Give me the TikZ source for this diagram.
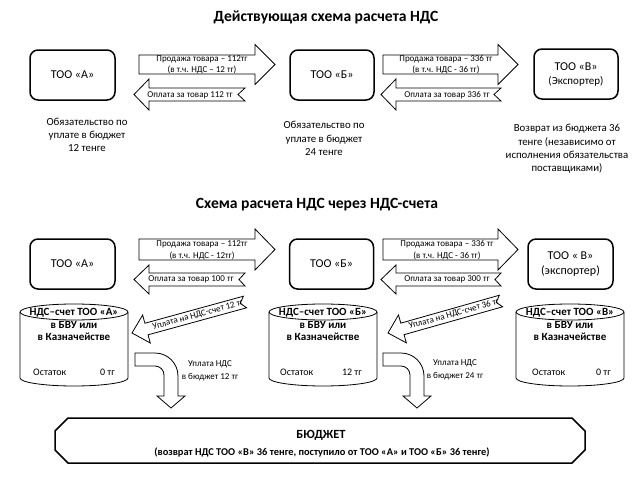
\documentclass[tikz,border=0pt]{standalone}
\usepackage{fontspec}
\setmainfont{Carlito}
\usetikzlibrary{calc}
\newcommand{\blkarrow}[6]{%
  \coordinate (ba-hb) at ($(#2)!#5!(#1)$);
  \coordinate (ba-nt) at ($(#1)!#6!(#2)$);
  \draw[barrow] (#2) -- ($(ba-hb)!#4!90:(#1)$) -- ($(ba-hb)!#3!90:(#1)$) -- ($(#1)!#3!-90:(ba-hb)$) -- (ba-nt) -- ($(#1)!#3!90:(ba-hb)$) -- ($(ba-hb)!#3!-90:(#1)$) -- ($(ba-hb)!#4!-90:(#1)$) -- cycle;
}
\newcommand{\drawcyl}[2]{%
  \pgfmathsetmacro{\cylL}{#1-54}\pgfmathsetmacro{\cylR}{#1+54}%
  \pgfmathsetmacro{\cylKa}{#1-29.8}\pgfmathsetmacro{\cylKb}{#1+29.8}%
  \node[inner sep=0pt, minimum width=108pt, minimum height=82pt] (#2) at (#1,345) {};
  \draw[cyl] (#1,312) ellipse [x radius=54pt, y radius=8pt];
  \draw[cyl] (\cylL,312) -- (\cylL,378) .. controls (\cylL,382.4) and (\cylKa,386) .. (#1,386) .. controls (\cylKb,386) and (\cylR,382.4) .. (\cylR,378) -- (\cylR,312);
}
\begin{document}
\begin{tikzpicture}[x=1pt,y=-1pt,
  tbox/.style={draw, line width=1.5pt, rounded corners=8pt, minimum width=85pt, minimum height=50pt, inner sep=0pt, align=center, font=\fontsize{12}{14}\selectfont},
  barrow/.style={draw, line width=0.8pt, fill=white, line join=miter},
  alabel/.style={font=\fontsize{9}{11}\selectfont, inner sep=0pt},
  note/.style={align=center, font=\fontsize{10.8}{13.2}\selectfont, inner sep=0pt},
  cyl/.style={draw, line width=0.8pt},
  cyltext/.style={font=\bfseries\fontsize{11}{12.5}\selectfont, align=center, inner sep=0pt},
  rest/.style={font=\fontsize{10}{12}\selectfont, inner sep=0pt},
  title/.style={font=\bfseries\fontsize{15.6}{18}\selectfont, inner sep=0pt}
]
\useasboundingbox[fill=white] (0,0) rectangle (638,479);

% titles
\node[title] (t1) at (326,17) {Действующая схема расчета НДС};
\node[title] (t2) at (317,205) {Схема расчета НДС через НДС-счета};

% top section boxes
\node[tbox] (A1) at (72.5,75) {ТОО «А»};
\node[tbox, minimum width=84pt] (B1) at (332,75) {ТОО «Б»};
\node[tbox, minimum width=84pt] (V1) at (576,74) {ТОО «В»\\{\fontsize{11}{12}\selectfont(Экспортер)}};

% top arrows
\blkarrow{139,64.5}{275,64.5}{9.5pt}{20pt}{20pt}{0pt}
\blkarrow{245,94.5}{134,94.5}{6.5pt}{15.5pt}{15pt}{7pt}
\blkarrow{383,64.5}{518,64.5}{9.5pt}{20pt}{20pt}{0pt}
\blkarrow{501,94.5}{381,94.5}{6.5pt}{15.5pt}{15pt}{7pt}
\node[alabel] (l1a) at (202,59) {Продажа товара – 112тг};
\node[alabel] (l1b) at (202,70) {(в т.ч. НДС – 12 тг)};
\node[alabel] (l2) at (190,95.5) {Оплата за товар 112 тг};
\node[alabel] (l3a) at (446,59) {Продажа товара – 336 тг};
\node[alabel] (l3b) at (446,70) {(в т.ч. НДС - 36 тг)};
\node[alabel] (l4) at (447,95.5) {Оплата за товар 336 тг};

% notes
\node[note] (nA) at (87,135) {Обязательство по\\уплате в бюджет\\12 тенге};
\node[note] (nB) at (324,138.5) {Обязательство по\\уплате в бюджет\\24 тенге};
\node[note] (nV) at (567,149) {Возврат из бюджета 36\\тенге (независимо от\\исполнения обязательства\\поставщиками)};

% bottom section boxes
\node[tbox] (A2) at (72.5,264) {ТОО «А»};
\node[tbox, minimum width=84pt] (B2) at (331.5,264) {ТОО «Б»};
\node[tbox, font=\fontsize{12}{15}\selectfont] (V2) at (570.5,264) {ТОО « В»\\(экспортер)};

% bottom arrows
\blkarrow{139,249.5}{275,249.5}{10.5pt}{20.5pt}{20pt}{0pt}
\blkarrow{245,279.5}{134,279.5}{6.5pt}{14.5pt}{15pt}{6pt}
\blkarrow{383,249.5}{518,249.5}{10.5pt}{20.5pt}{20pt}{0pt}
\blkarrow{501,279.5}{381,279.5}{6.5pt}{14.5pt}{15pt}{6pt}
\node[alabel] (m1a) at (202,244) {Продажа товара – 112тг};
\node[alabel] (m1b) at (202,256) {(в т.ч. НДС - 12тг)};
\node[alabel] (m2) at (191,279.5) {Оплата за товар 100 тг};
\node[alabel] (m3a) at (447,244) {Продажа товара – 336 тг};
\node[alabel] (m3b) at (447,256) {(в т.ч. НДС - 36 тг)};
\node[alabel] (m4) at (447,279.5) {Оплата за товар 300 тг};

% cylinders
\drawcyl{74}{cA}
\drawcyl{323}{cB}
\drawcyl{570}{cV}
\node[cyltext] (cAt) at (74,324.5) {НДС–счет ТОО «А»\\в БВУ или\\в Казначействе};
\node[cyltext] (cBt) at (323,324.5) {НДС–счет ТОО «Б»\\в БВУ или\\в Казначействе};
\node[cyltext] (cVt) at (570,324.5) {НДС–счет ТОО «В»\\в БВУ или\\в Казначействе};
\node[rest, anchor=base west] (cAr) at (33,375) {Остаток};
\node[rest, anchor=base east] (cAv) at (115,375) {0 тг};
\node[rest, anchor=base west] (cBr) at (280,375) {Остаток};
\node[rest, anchor=base east] (cBv) at (362,375) {12 тг};
\node[rest, anchor=base west] (cVr) at (532,375) {Остаток};
\node[rest, anchor=base east] (cVv) at (611,375) {0 тг};

% diagonal arrows
\blkarrow{245,302}{132,333}{6pt}{14.5pt}{15pt}{5pt}
\blkarrow{501,301}{388,333}{6pt}{14.5pt}{15pt}{5pt}
\node[alabel, rotate=15.3] (d1) at (198,315) {Уплата на НДС-счет 12 тг};
\node[alabel, rotate=15.8] (d2) at (454,314) {Уплата на НДС-счет 36 тг};

% bent arrows
\draw[barrow] (135,353) -- (155,353) .. controls (167.7,353) and (178,363.3) .. (178,376) -- (178,396) -- (185,396) -- (171,408) -- (157,396) -- (164,396) -- (164,375) .. controls (164,370) and (160,366) .. (155,366) -- (135,366) -- cycle;
\draw[barrow] (383,353) -- (401,353) .. controls (413.7,353) and (424,363.3) .. (424,376) -- (424,396) -- (431,396) -- (417,408) -- (403,396) -- (410,396) -- (410,375) .. controls (410,370) and (406,366) .. (401,366) -- (383,366) -- cycle;
\node[alabel, align=center, font=\fontsize{9}{13}\selectfont] (u1) at (210,370.5) {Уплата НДС\\в бюджет 12 тг};
\node[alabel, align=center, font=\fontsize{9}{13}\selectfont] (u2) at (455,369.5) {Уплата НДС\\в бюджет 24 тг};

% budget
\node[inner sep=0pt, minimum width=530pt, minimum height=45pt] (bud) at (320,440.5) {};
\draw[line width=1.5pt] (68,418) -- (572,418) -- (585,431) -- (585,450) -- (572,463) -- (68,463) -- (55,450) -- (55,431) -- cycle;
\node[font=\bfseries\fontsize{12.5}{14}\selectfont, inner sep=0pt] (bt1) at (321,435) {БЮДЖЕТ};
\node[font=\bfseries\fontsize{10.4}{12}\selectfont, inner sep=0pt] (bt2) at (322,452) {(возврат НДС ТОО «В» 36 тенге, поступило от ТОО «А» и ТОО «Б» 36 тенге)};
\end{tikzpicture}
\end{document}
